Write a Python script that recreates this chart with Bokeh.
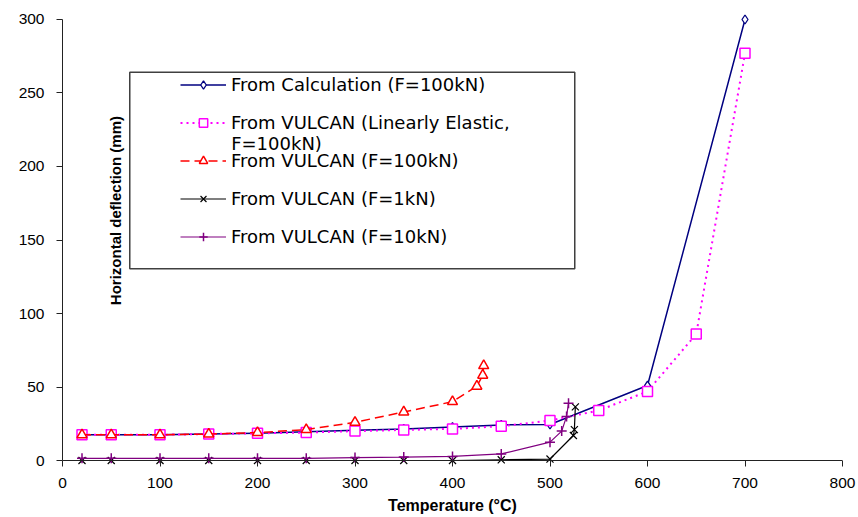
import math
from bokeh.plotting import figure
from bokeh.models import Range1d, Legend, LegendItem, Label, BoxAnnotation, FixedTicker, Span
from bokeh.embed import file_html
from bokeh.resources import INLINE

# ---- data ----
x_ticks = [0, 100, 200, 300, 400, 500, 600, 700, 800]
y_ticks = [0, 50, 100, 150, 200, 250, 300]

calc_x = [20, 50, 100, 150, 200, 250, 300, 350, 400, 450, 500, 600, 700]
calc_y = [17.5, 17.5, 17.5, 18, 18.5, 19.5, 20.5, 21.5, 22.8, 24.2, 24.5, 51, 300]

lin_x = [20, 50, 100, 150, 200, 250, 300, 350, 400, 450, 500, 550, 600, 650, 700]
lin_y = [17.5, 17.5, 17.5, 18, 18.5, 19, 20, 20.8, 21.5, 23.3, 27.2, 34, 47, 86, 277]

v100_x = [20, 50, 100, 150, 200, 250, 300, 350, 400, 425, 431, 432]
v100_y = [17.5, 17.5, 17.5, 18, 19, 21, 26, 33, 40, 50.5, 58, 64.5]

v1_x = [20, 50, 100, 150, 200, 250, 300, 350, 400, 450, 500, 524, 525, 526]
v1_y = [0, 0, 0, 0, 0, 0, 0, 0, 0, 0.5, 1, 17, 21, 36.5]

v10_x = [20, 50, 100, 150, 200, 250, 300, 350, 400, 450, 500, 512, 517, 519]
v10_y = [1.5, 1.5, 1.5, 1.5, 1.5, 1.5, 2, 2.3, 2.8, 4.5, 12.5, 20, 30, 39]

labels = [
    "From Calculation (F=100kN)",
    "From VULCAN (Linearly Elastic,",
    "From VULCAN (F=100kN)",
    "From VULCAN (F=1kN)",
    "From VULCAN (F=10kN)",
]
label2_cont = "F=100kN)"
x_title = "Temperature (°C)"
y_title = "Horizontal deflection (mm)"

TICK_FONT = "Liberation Sans"
LEG_FONT = "DejaVu Sans"

p = figure(width=858, height=517, output_backend="svg", toolbar_location=None,
           x_range=Range1d(0, 800), y_range=Range1d(-6.12, 304.08),
           min_border_left=62, min_border_right=16, min_border_top=13, min_border_bottom=48)
p.outline_line_color = None
p.xgrid.visible = False
p.ygrid.visible = False
p.background_fill_color = "white"
p.border_fill_color = "white"

for ax in (p.xaxis[0], p.yaxis[0]):
    ax.axis_line_color = "#222222"
    ax.axis_line_width = 1
    ax.major_tick_line_color = "#222222"
    ax.minor_tick_line_color = None
    ax.major_label_text_font = TICK_FONT
    ax.major_label_text_font_size = "15.5px"
    ax.major_label_text_color = "black"

p.yaxis.major_tick_out = 6
p.yaxis.major_tick_in = 0
p.yaxis.bounds = (0, 300)
p.yaxis.major_label_standoff = 12

# x axis sits at the frame bottom (slightly below 0); its ticks are drawn up to y=0
p.xaxis.ticker = FixedTicker(ticks=x_ticks)
p.yaxis.ticker = FixedTicker(ticks=y_ticks)
p.xaxis.axis_line_color = None
p.xaxis.major_tick_in = 9
p.xaxis.major_tick_out = -3
p.xaxis.major_label_standoff = 8
p.xaxis.axis_label = x_title
p.xaxis.axis_label_text_font = TICK_FONT
p.xaxis.axis_label_text_font_size = "16px"
p.xaxis.axis_label_text_font_style = "bold"
p.xaxis.axis_label_text_color = "black"
p.xaxis.axis_label_standoff = 6

# series
r_calc_l = p.line(calc_x, calc_y, line_color="#000080", line_width=1.5)
r_calc_m = p.scatter(calc_x, calc_y, marker="diamond", size=9, line_color="#000080",
                     fill_color="white", line_width=1.3)

r_lin_l = p.line(lin_x, lin_y, line_color="#FF00FF", line_width=2, line_dash="2 4")
r_lin_m = p.scatter(lin_x, lin_y, marker="square", size=10, line_color="#FF00FF",
                    fill_color="white", line_width=1.5)

r_100_l = p.line(v100_x, v100_y, line_color="#FF0000", line_width=1.5, line_dash="9 5")
r_100_m = p.scatter(v100_x, v100_y, marker="triangle", size=10, line_color="#FF0000",
                    fill_color="white", line_width=1.5)

r_1_l = p.line(v1_x, v1_y, line_color="black", line_width=1.2)
r_1_m = p.scatter(v1_x, v1_y, marker="x", size=10, line_color="black", line_width=1.2)

r_10_l = p.line(v10_x, v10_y, line_color="#800080", line_width=1.2)
r_10_m = p.scatter(v10_x, v10_y, marker="cross", size=10, line_color="#800080", line_width=1.5)

# x axis line at y = 0
p.add_layout(Span(location=0, dimension="width", line_color="#222222", line_width=1))

# legend frame
box = BoxAnnotation(left=69.0, right=525.4, bottom=130.4, top=264.1,
                    fill_color="white", fill_alpha=1.0,
                    line_color="#404040", line_width=1.5, line_alpha=1.0)
p.add_layout(box)

legend = Legend(items=[
    LegendItem(label=labels[0], renderers=[r_calc_l, r_calc_m]),
    LegendItem(label=labels[1], renderers=[r_lin_l, r_lin_m]),
    LegendItem(label=labels[2], renderers=[r_100_l, r_100_m]),
    LegendItem(label=labels[3], renderers=[r_1_l, r_1_m]),
    LegendItem(label=labels[4], renderers=[r_10_l, r_10_m]),
], location=(118, 222), padding=0, margin=0, spacing=17,
    glyph_width=46, glyph_height=21, label_height=21, label_standoff=5,
    label_text_font=LEG_FONT, label_text_font_size="18px", label_text_color="black",
    border_line_alpha=0, background_fill_alpha=0)
p.add_layout(legend)

p.add_layout(Label(x=173.0, y=215.4, text=label2_cont, text_font=LEG_FONT,
                   text_font_size="18px", text_baseline="middle", text_align="left",
                   text_color="black"))

p.add_layout(Label(x=54.5, y=170, text=y_title, angle=math.pi / 2,
                   text_align="center", text_baseline="middle", text_font=TICK_FONT,
                   text_font_size="15px", text_font_style="bold", text_color="black"))

open("out.html", "w").write(file_html(p, INLINE))
